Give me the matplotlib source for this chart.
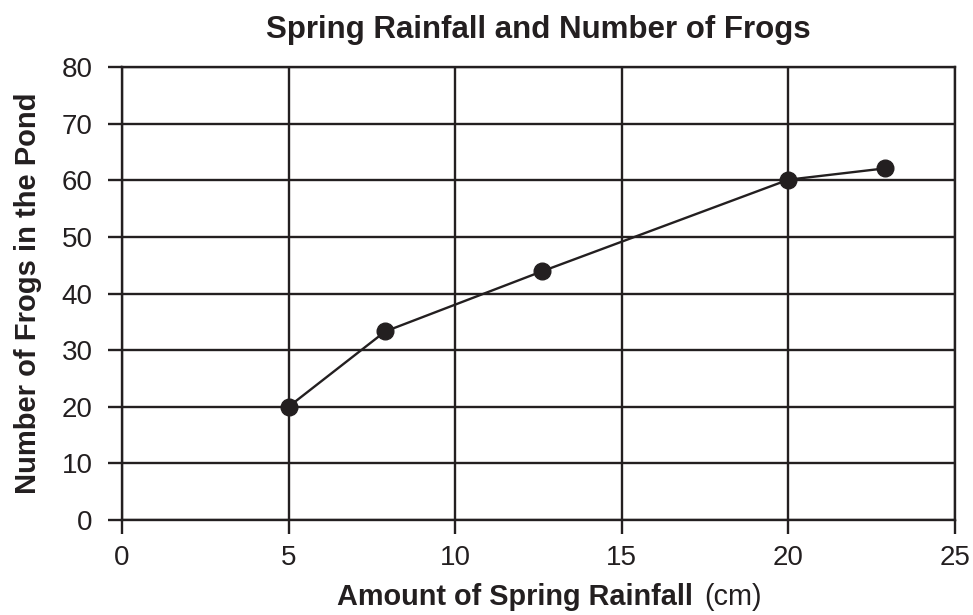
import matplotlib
matplotlib.use("Agg")
import matplotlib.pyplot as plt
from matplotlib.offsetbox import TextArea, HPacker, AnchoredOffsetbox

# rainfall (cm) vs frogs in pond
rainfall = [5, 7.9, 12.6, 20, 22.9]
frogs = [20, 33.3, 43.9, 60.1, 62.1]

x_ticks = [0, 5, 10, 15, 20, 25]
y_ticks = [0, 10, 20, 30, 40, 50, 60, 70, 80]

INK = "#231f20"
plt.rcParams["font.family"] = ["Liberation Sans", "DejaVu Sans"]

fig = plt.figure(figsize=(9.73, 6.15), dpi=100)
ax = fig.add_axes([0.1254, 0.1545, 0.856, 0.7365])

ax.plot(rainfall, frogs, color=INK, lw=1.7, marker="o", ms=12, zorder=3, clip_on=False)

ax.set_xlim(0, 25)
ax.set_ylim(0, 80)
ax.set_xticks(x_ticks)
ax.set_yticks(y_ticks)
ax.grid(True, color=INK, lw=1.7)
for s in ax.spines.values():
    s.set_color(INK)
    s.set_linewidth(1.7)
ax.tick_params(direction="out", length=10, width=1.7, color=INK,
               labelsize=20, labelcolor=INK)
ax.tick_params(axis="x", pad=8)
ax.tick_params(axis="y", pad=11)

ax.set_title("Spring Rainfall and Number of Frogs", fontsize=22.5, fontweight="bold",
             color=INK, pad=21)
ax.set_ylabel("Number of Frogs in the Pond", fontsize=21, fontweight="bold",
              color=INK, labelpad=14)

# x label: bold part + normal "(cm)"
lbl = HPacker(children=[
    TextArea("Amount of Spring Rainfall", textprops=dict(fontsize=20.8, fontweight="bold", color=INK)),
    TextArea("(cm)", textprops=dict(fontsize=20.8, color=INK)),
], sep=8, pad=0, align="baseline")
box = AnchoredOffsetbox(loc="lower center", child=lbl, pad=0, frameon=False,
                        bbox_to_anchor=(0.513, -0.20), bbox_transform=ax.transAxes,
                        borderpad=0)
ax.add_artist(box)

fig.savefig("out.png", dpi=100)
